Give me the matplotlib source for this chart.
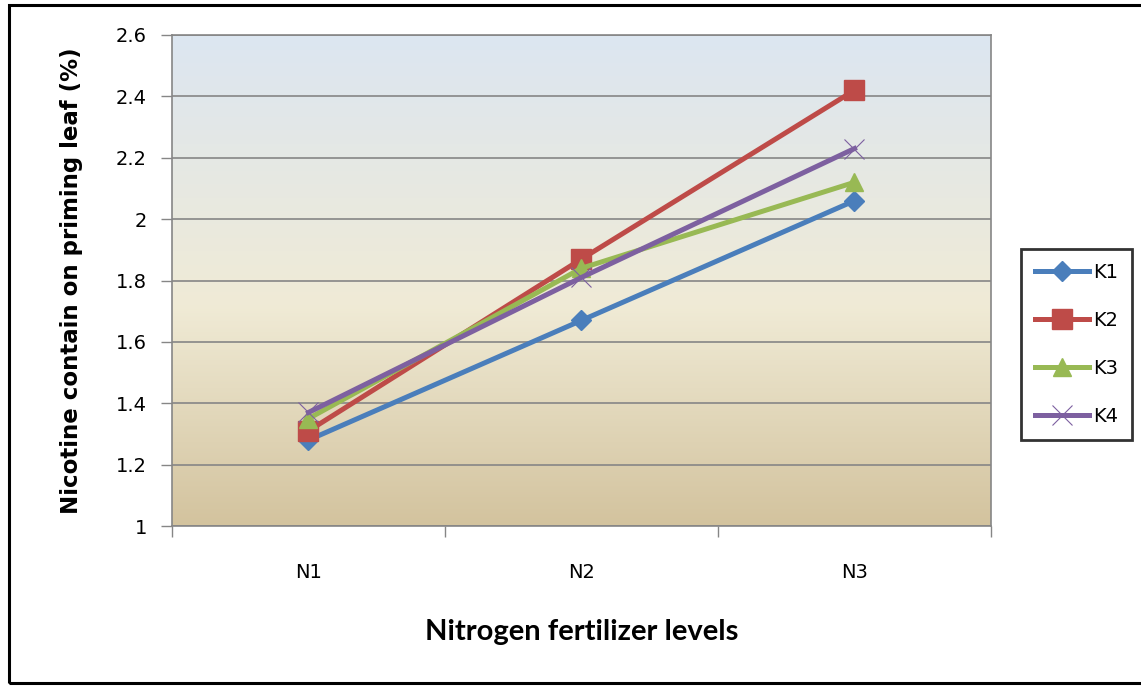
import numpy as np
import matplotlib
matplotlib.use("Agg")
import matplotlib.pyplot as plt
from matplotlib.colors import LinearSegmentedColormap
from matplotlib.patches import Rectangle

# Nitrogen levels and nicotine content per potassium treatment
categories = ["N1", "N2", "N3"]
k1 = [1.28, 1.67, 2.06]
k2 = [1.31, 1.87, 2.42]
k3 = [1.35, 1.84, 2.12]
k4 = [1.37, 1.81, 2.23]
series_names = ["K1", "K2", "K3", "K4"]
y_ticks = [1, 1.2, 1.4, 1.6, 1.8, 2, 2.2, 2.4, 2.6]
y_tick_labels = ["1", "1.2", "1.4", "1.6", "1.8", "2", "2.2", "2.4", "2.6"]

colors = ["#4A7EBB", "#BE4B48", "#98B954", "#7D60A0"]

fig = plt.figure(figsize=(11.41, 6.86), dpi=100)
ax = fig.add_axes([172 / 1141, 1 - 526 / 686, (991 - 172) / 1141, (526 - 35) / 686])

# Gradient plot-area fill (tan at the bottom, cream in the middle, pale blue at top)
grad = LinearSegmentedColormap.from_list(
    "bg",
    [(0.0, (211 / 255, 195 / 255, 158 / 255)),
     (0.45, (240 / 255, 235 / 255, 214 / 255)),
     (1.0, (220 / 255, 230 / 255, 241 / 255))],
)
ax.imshow(np.linspace(0, 1, 256).reshape(-1, 1), cmap=grad, aspect="auto",
          extent=[0, 1, 0, 1], origin="lower", transform=ax.transAxes, zorder=0)

x = np.arange(len(categories))
markers = [dict(marker="D", markersize=10),
           dict(marker="s", markersize=14),
           dict(marker="^", markersize=13),
           dict(marker="x", markersize=14, markeredgewidth=0.8)]
for vals, name, col, mk in zip([k1, k2, k3, k4], series_names, colors, markers):
    ax.plot(x, vals, color=col, linewidth=3.6, label=name, zorder=3,
            markerfacecolor=col, markeredgecolor=col, **mk)

ax.set_xlim(-0.5, 2.5)
ax.set_ylim(1, 2.6)
ax.set_yticks(y_ticks)
ax.set_yticklabels(y_tick_labels)
ax.yaxis.grid(True, color="#868686", linewidth=1.2, zorder=1)
ax.set_axisbelow(True)

# Category labels centred, tick marks between categories
ax.set_xticks([-0.5, 0.5, 1.5, 2.5])
ax.set_xticklabels([])
ax.set_xticks(x, minor=True)
ax.set_xticklabels(categories, minor=True)
ax.tick_params(axis="x", which="minor", length=0, pad=27, labelsize=14)
ax.tick_params(axis="x", which="major", length=8, width=1, color="#868686")
ax.tick_params(axis="y", length=8, width=1, color="#868686", labelsize=14, pad=10)

for s in ax.spines.values():
    s.set_color("#868686")
    s.set_linewidth(1.2)

ax.set_xlabel("Nitrogen fertilizer levels", fontsize=21, fontweight="bold",
              family=["Lato", "DejaVu Sans"], labelpad=26)
ax.set_ylabel("Nicotine contain on priming leaf (%)", fontsize=16.5, fontweight="bold",
              labelpad=24)

leg = ax.legend(loc="upper left", bbox_to_anchor=(1021 / 1141, 1 - 249 / 686),
                bbox_transform=fig.transFigure, frameon=True, fancybox=False,
                fontsize=14, handlelength=2.8, labelspacing=1.5,
                borderpad=0.7, handletextpad=0.2, borderaxespad=0)
leg.get_frame().set_edgecolor("black")
leg.get_frame().set_linewidth(2)

# Outer chart frame
fig.patches.append(Rectangle((9 / 1141, 3 / 686), 1.2, 1 - 8 / 686,
                             transform=fig.transFigure, fill=False,
                             edgecolor="black", linewidth=2.2))

fig.savefig("out.png", dpi=100)
